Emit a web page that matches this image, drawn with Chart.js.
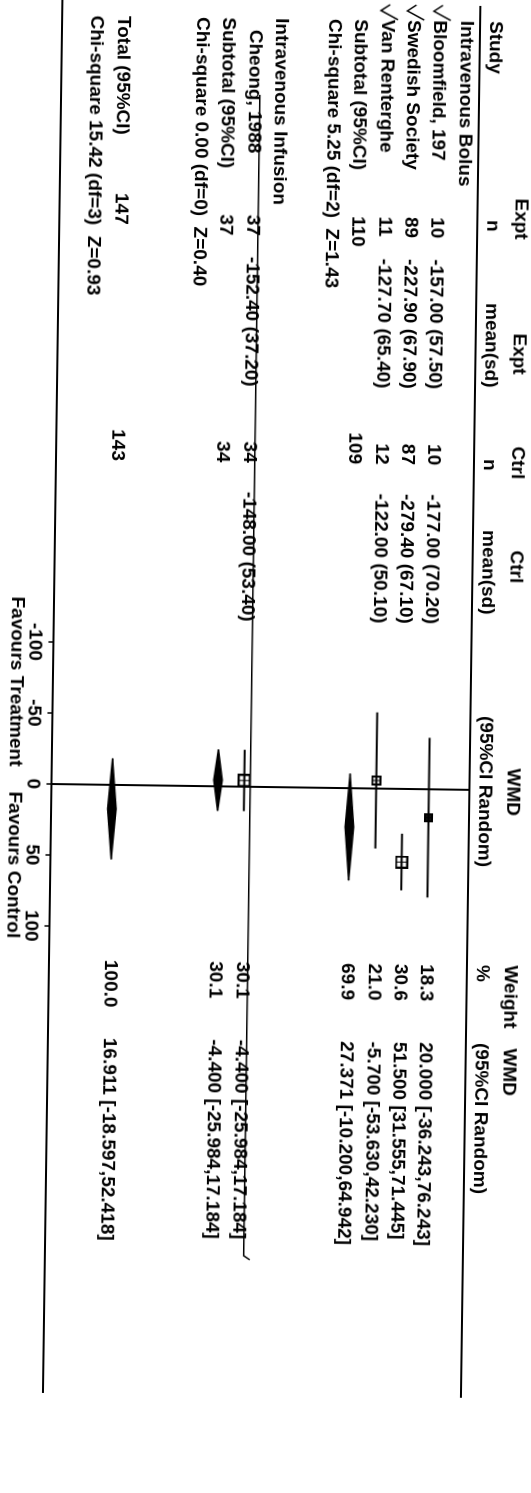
<!DOCTYPE html>
<html>
<head>
<meta charset="utf-8">
<script src="https://cdn.jsdelivr.net/npm/chart.js@4/dist/chart.umd.min.js"></script>
<style>
  html, body { margin: 0; padding: 0; background: #fff; overflow: hidden; }
  /* the printed page was scanned sideways: draw it upright, then turn it */
  #page { position: absolute; left: 0; top: 0; width: 1493px; height: 531px;
          transform-origin: 0 0; transform: translateX(531px) rotate(90deg); }
  #forest { display: block; transform: rotate(0.8deg); }
</style>
</head>
<body>
<div id="page"><canvas id="forest" width="1493" height="531"></canvas></div>
<script>
// table rows, top to bottom
const rowLabels = ['Intravenous Bolus', 'Bloomfield, 197', 'Swedish Society', 'Van Renterghe',
    'Subtotal (95%CI)', 'Chi-square 5.25 (df=2)  Z=1.43', '',
    'Intravenous Infusion', 'Cheong, 1988', 'Subtotal (95%CI)', 'Chi-square 0.00 (df=0)  Z=0.40', '', '',
    'Total (95%CI)', 'Chi-square 15.42 (df=3)  Z=0.93'];
const exptN = ['', '10', '89', '11', '110', '', '', '', '37', '37', '', '', '', '147', ''];
const exptMean = ['', '-157.00 (57.50)', '-227.90 (67.90)', '-127.70 (65.40)', '', '', '',
    '', '-152.40 (37.20)', '', '', '', '', '', ''];
const ctrlN = ['', '10', '87', '12', '109', '', '', '', '34', '34', '', '', '', '143', ''];
const ctrlMean = ['', '-177.00 (70.20)', '-279.40 (67.10)', '-122.00 (50.10)', '', '', '',
    '', '-148.00 (53.40)', '', '', '', '', '', ''];
const weightText = ['', '18.3', '30.6', '21.0', '69.9', '', '', '', '30.1', '30.1', '', '', '', '100.0', ''];
const wmdText = ['', '20.000 [-36.243,76.243]', '51.500 [31.555,71.445]', '-5.700 [-53.630,42.230]',
    '27.371 [-10.200,64.942]', '', '', '', '-4.400 [-25.984,17.184]', '-4.400 [-25.984,17.184]',
    '', '', '', '16.911 [-18.597,52.418]', ''];

// single studies (squares + CI lines)
const studyRows = [1, 2, 3, 8];
const studyWmd = [20.0, 51.5, -5.7, -4.4];
const studyLow = [-36.243, 31.555, -53.630, -25.984];
const studyHigh = [76.243, 71.445, 42.230, 17.184];
const studyWeight = [18.3, 30.6, 21.0, 30.1];

// pooled estimates (diamonds)
const pooledRows = [4, 9, 13];
const pooledWmd = [27.371, -4.400, 16.911];
const pooledLow = [-10.200, -25.984, -18.597];
const pooledHigh = [64.942, 17.184, 52.418];

const xTicks = [-100, -50, 0, 50, 100];

// layout of the upright page
const W = 1493, H = 531;
const FIRST_ROW = 75, ROW_H = 26.4;
const TOP = 61, AXIS = 479, RIGHT = 1395;
const ZERO_X = 787, PX_PER_UNIT = 1.42;
const FONT = 'bold 19px "Liberation Sans", Arial, sans-serif';

function makeBox(size, dark) {
    const s = Math.round(size);
    const c = document.createElement('canvas');
    c.width = s; c.height = s;
    const g = c.getContext('2d');
    g.fillStyle = dark ? '#111' : '#fff';
    g.fillRect(0, 0, s, s);
    g.strokeStyle = '#000';
    g.lineWidth = 2;
    g.strokeRect(1, 1, s - 2, s - 2);
    g.lineWidth = 1;
    g.beginPath();
    g.moveTo(s / 2, 1); g.lineTo(s / 2, s - 1);
    g.moveTo(1, s / 2); g.lineTo(s - 1, s / 2);
    g.stroke();
    return c;
}

const datasets = [];
studyRows.forEach((r, i) => {
    datasets.push({
        data: [{x: studyLow[i], y: r}, {x: studyHigh[i], y: r}],
        borderColor: '#000', borderWidth: 2, pointRadius: 0, fill: false
    });
});
datasets.push({
    data: studyRows.map((r, i) => ({x: studyWmd[i], y: r})),
    showLine: false,
    pointStyle: studyRows.map((r, i) => makeBox(3 + studyWeight[i] * 0.33, i === 0)),
    pointRadius: 6
});
const D = 0.16;
pooledRows.forEach((r, i) => {
    datasets.push({
        data: [{x: pooledLow[i], y: r}, {x: pooledWmd[i], y: r - D}, {x: pooledHigh[i], y: r}],
        borderColor: '#000', borderWidth: 1.5, pointRadius: 0, tension: 0,
        fill: '+1', backgroundColor: '#000'
    });
    datasets.push({
        data: [{x: pooledLow[i], y: r}, {x: pooledWmd[i], y: r + D}, {x: pooledHigh[i], y: r}],
        borderColor: '#000', borderWidth: 1.5, pointRadius: 0, tension: 0, fill: false
    });
});

const tablePlugin = {
    id: 'table',
    afterDraw(chart) {
        const {ctx, chartArea} = chart;
        const x = chart.scales.x, y = chart.scales.y;
        ctx.save();
        ctx.fillStyle = '#000';
        ctx.strokeStyle = '#000';
        ctx.font = FONT;
        ctx.textBaseline = 'middle';

        function put(str, px, py, align) {
            if (!str) return;
            ctx.textAlign = align || 'left';
            ctx.fillText(str, px, py);
        }

        // column headers
        put('Expt', 195, 18); put('Expt', 330, 18); put('Ctrl', 443, 18);
        put('Ctrl', 547, 18); put('WMD', 765, 18); put('Weight', 962, 18); put('WMD', 1045, 18);
        put('Study', 18, 46); put('n', 217, 46); put('mean(sd)', 300, 46); put('n', 456, 46);
        put('mean(sd)', 527, 46); put('(95%CI Random)', 713, 46); put('%', 962, 46);
        put('(95%CI Random)', 1040, 46);

        // rule under the headers
        ctx.lineWidth = 2;
        ctx.beginPath();
        ctx.moveTo(3, chartArea.top);
        ctx.lineTo(chartArea.right, chartArea.top);
        ctx.stroke();

        // table rows
        rowLabels.forEach((label, k) => {
            const py = y.getPixelForValue(k);
            put(label, k === 8 ? 30 : 18, py);
            put(exptN[k], k === 13 ? 195 : 215, py);
            put(exptMean[k], 257, py);
            put(ctrlN[k], 463, py, 'right');
            put(ctrlMean[k], 492, py);
            put(weightText[k], 962, py);
            put(wmdText[k], 1040, py);
        });

        // pen line drawn through the Cheong row on the print
        const cy = y.getPixelForValue(8) - 6;
        ctx.lineWidth = 1.5;
        ctx.beginPath();
        ctx.moveTo(95, cy);
        ctx.lineTo(1256, cy);
        ctx.lineTo(1260, cy - 6);
        ctx.stroke();

        // pen ticks in front of the three bolus studies
        [1, 2, 3].forEach(k => {
            const py = y.getPixelForValue(k);
            ctx.beginPath();
            ctx.moveTo(3, py - 3);
            ctx.lineTo(9, py + 6);
            ctx.lineTo(18, py - 11);
            ctx.stroke();
        });

        // direction labels under the axis
        const zero = x.getPixelForValue(0);
        put('Favours Treatment', zero - 17, 516, 'right');
        put('Favours Control', zero + 8, 516);
        ctx.restore();
    }
};

new Chart(document.getElementById('forest'), {
    type: 'line',
    data: {datasets: datasets},
    plugins: [tablePlugin],
    options: {
        responsive: false,
        animation: false,
        devicePixelRatio: 1,
        layout: {autoPadding: false, padding: {left: 0, right: W - RIGHT, top: TOP, bottom: H - AXIS - 30}},
        plugins: {legend: {display: false}, tooltip: {enabled: false}},
        scales: {
            x: {
                type: 'linear',
                min: -ZERO_X / PX_PER_UNIT,
                max: (RIGHT - ZERO_X) / PX_PER_UNIT,
                afterBuildTicks: axis => { axis.ticks = xTicks.map(v => ({value: v})); },
                afterFit: axis => { axis.height = 30; },
                grid: {
                    color: c => (c.tick && c.tick.value === 0) ? '#000' : 'rgba(0,0,0,0)',
                    lineWidth: 2,
                    tickColor: '#000',
                    tickLength: 5,
                    tickWidth: 1.5
                },
                border: {display: true, color: '#000', width: 2},
                ticks: {
                    color: '#000', padding: 2, maxRotation: 0, autoSkip: false,
                    font: {family: '"Liberation Sans", Arial, sans-serif', size: 19, weight: 'bold'}
                }
            },
            y: {
                type: 'linear',
                display: false,
                reverse: true,
                min: (TOP - FIRST_ROW) / ROW_H,
                max: (AXIS - FIRST_ROW) / ROW_H
            }
        }
    }
});
</script>
</body>
</html>
